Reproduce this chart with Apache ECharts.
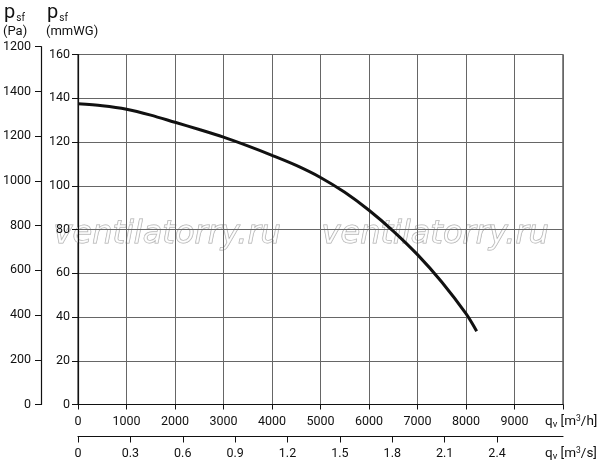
<!DOCTYPE html>
<html>
<head>
<meta charset="UTF-8">
<title>p_sf - q_v</title>
<script src="https://cdn.jsdelivr.net/npm/echarts@6/dist/echarts.min.js"></script>
<style>
    html, body { margin: 0; padding: 0; background: #fff; }
    #chart { width: 600px; height: 471px; }
</style>
</head>
<body>
<div id="chart"></div>
<script>
// curve: flow in m3/h, pressure in mmWG
var flowM3h = [0, 500, 1000, 1500, 2000, 2500, 3000, 3500, 4000, 4500, 5000, 5500, 6000, 6500, 7000, 7500, 8000, 8220];
var pressMmwg = [137.5, 136.6, 135, 132.3, 129, 125.7, 122.2, 118.2, 113.9, 109.3, 103.8, 97, 88.8, 79.3, 68.5, 56, 41.5, 33.5];

// the Pa scale as printed (top label repeats 1200)
var paLabels = ['0', '200', '400', '600', '800', '1000', '1200', '1400', '1200'];
var m3sTicks = [0, 0.3, 0.6, 0.9, 1.2, 1.5, 1.8, 2.1, 2.4];

var FONT = 'Roboto';
var txt = { color: '#111', fontFamily: FONT, fontSize: 12.5 };

var points = [];
for (var i = 0; i < flowM3h.length; i++) {
    points.push([flowM3h[i], pressMmwg[i]]);
}

var myChart = echarts.init(document.getElementById('chart'), null, { renderer: 'canvas' });

var sub = { fontSize: 10, fontFamily: FONT, fill: '#111', verticalAlign: 'bottom', padding: [8, 0, 0, 1] };
var qRich = {
    s: { fontSize: 9.5, fontFamily: FONT, fill: '#111', padding: [6, 0, 0, 0] },
    p: { fontSize: 8.5, fontFamily: FONT, fill: '#111', padding: [0, 0, 6, 0] }
};
var mark = { text: 'ventilatorry.ru', fill: 'rgba(255,255,255,0.6)', stroke: '#aaaaaa', lineWidth: 1, font: 'italic 32px "DejaVu Sans"' };

var option = {
    backgroundColor: '#fff',
    animation: false,
    grid: [
        { left: 78, top: 54.5, right: 37, bottom: 66.5, show: true, borderColor: '#111', borderWidth: 1 },
        { left: 40, top: 46.7, width: 1, bottom: 66.5 }
    ],
    xAxis: [
        {
            gridIndex: 0, type: 'value', min: 0, max: 10000, interval: 1000,
            axisLine: { lineStyle: { color: '#111', width: 1.2 } },
            axisTick: { length: 5, lineStyle: { color: '#111' } },
            axisLabel: Object.assign({
                margin: 11,
                formatter: function (v) { return v >= 10000 ? '' : String(v); }
            }, txt),
            splitLine: { lineStyle: { color: '#666', width: 1 } }
        },
        {
            gridIndex: 0, type: 'value', position: 'bottom', offset: 32,
            min: 0, max: 10000 / 3600,
            axisLine: { onZero: false, lineStyle: { color: '#111', width: 1.2 } },
            axisTick: { length: 6, customValues: m3sTicks, lineStyle: { color: '#111' } },
            axisLabel: Object.assign({
                margin: 11,
                customValues: m3sTicks,
                formatter: function (v) { return v === 0 ? '0' : v.toFixed(1); }
            }, txt),
            splitLine: { show: false }
        },
        { gridIndex: 1, type: 'value', min: 0, max: 1, show: false }
    ],
    yAxis: [
        {
            gridIndex: 0, type: 'value', min: 0, max: 160, interval: 20,
            axisLine: { show: true, lineStyle: { color: '#111', width: 1.2 } },
            axisTick: { show: true, length: 6, lineStyle: { color: '#111' } },
            axisLabel: Object.assign({ margin: 8 }, txt),
            splitLine: { lineStyle: { color: '#666', width: 1 } }
        },
        {
            gridIndex: 1, type: 'value', min: 0, max: 1600, interval: 200,
            axisLine: { show: true, lineStyle: { color: '#111', width: 1.2 } },
            axisTick: { show: true, length: 6, lineStyle: { color: '#111' } },
            axisLabel: Object.assign({
                margin: 10,
                formatter: function (v) { return paLabels[Math.round(v / 200)]; }
            }, txt),
            splitLine: { show: false }
        }
    ],
    graphic: [
        // axis titles, top left
        { type: 'text', left: 4, top: 3, style: { text: 'p{s|sf}', fill: '#111', font: '20px ' + FONT, rich: { s: sub } } },
        { type: 'text', left: 3, top: 25, style: { text: '(Pa)', fill: '#111', font: '13px ' + FONT } },
        { type: 'text', left: 47, top: 3, style: { text: 'p{s|sf}', fill: '#111', font: '20px ' + FONT, rich: { s: sub } } },
        { type: 'text', left: 46, top: 25, style: { text: '(mmWG)', fill: '#111', font: '13px ' + FONT } },
        // flow axis names, bottom right
        { type: 'text', left: 545, top: 414, style: { text: 'q{s|v} [m{p|3}/h]', fill: '#111', font: '13.5px ' + FONT, rich: qRich } },
        { type: 'text', left: 545, top: 446, style: { text: 'q{s|v} [m{p|3}/s]', fill: '#111', font: '13.5px ' + FONT, rich: qRich } },
        // watermark
        { type: 'text', left: 53, top: 218, z: 0, style: mark },
        { type: 'text', left: 321, top: 218, z: 0, style: mark }
    ],
    series: [
        {
            type: 'line', xAxisIndex: 0, yAxisIndex: 0,
            data: points, smooth: 0.3, symbol: 'none', z: 5,
            lineStyle: { color: '#111', width: 3 }
        }
    ]
};
myChart.setOption(option);
</script>
</body>
</html>
